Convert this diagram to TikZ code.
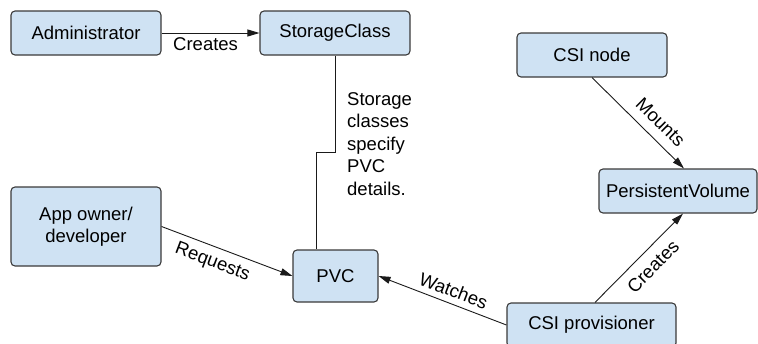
\documentclass[tikz,border=0pt]{standalone}
\usepackage{fontspec}
\setmainfont{Liberation Sans}
\usetikzlibrary{arrows.meta,calc}
\definecolor{boxfill}{HTML}{CFE2F3}
\definecolor{boxline}{HTML}{3A3A3A}
\definecolor{lineclr}{HTML}{1A1A1A}
\begin{document}
\begin{tikzpicture}[x=1pt,y=-1pt,
  box/.style={draw=boxline,fill=boxfill,line width=1.1pt,rounded corners=4pt,
    minimum width=150pt,minimum height=44pt,inner sep=0pt,align=center,
    font=\fontsize{18.5}{22}\selectfont},
  conn/.style={draw=lineclr,line width=0.9pt},
  arr/.style={conn,-{Triangle[length=12pt,width=7pt]}},
  lbl/.style={font=\fontsize{18.5}{22}\selectfont,inner sep=4pt},
  slbl/.style={lbl,sloped,inner sep=7pt}]
\useasboundingbox (0,0) rectangle (758,343);
\node[box] (admin) at (86,33) {Administrator};
\node[box] (sc) at (335,33) {StorageClass};
\node[box] (csinode) at (592,55) {CSI node};
\node[box,minimum width=158pt] (pv) at (678,191) {PersistentVolume};
\node[box,minimum height=79pt] (app) at (86,226.5) {App owner/\\developer};
\node[box,minimum width=85pt,minimum height=52pt] (pvc) at (335.5,276) {PVC};
\node[box,minimum width=169pt] (prov) at (591.5,325) {CSI provisioner};

\draw[arr] (admin.east) -- node[lbl,below,pos=0.45] {Creates} (sc.west);
\draw[conn] (sc.south) -- ++(0,97) coordinate (bend) -| ([xshift=-19.5pt]pvc.north);
\node[lbl,anchor=west,align=left,inner sep=0pt,font=\fontsize{18.5}{22.5}\selectfont] (note) at (347,144)
  {Storage\\classes\\specify\\PVC\\details.};
\draw[arr] (app.east) -- node[slbl,below,pos=0.43] {Requests} (pvc.west);
\draw[arr] (prov.west) -- node[slbl,above,pos=0.45,inner sep=6pt] {Watches} (pvc.east);
\draw[arr] (csinode.south) -- node[slbl,above,pos=0.62,inner sep=9.5pt] {Mounts} ([xshift=6pt]pv.north);
\draw[arr] ([xshift=3.5pt]prov.north) -- node[slbl,below,pos=0.53,inner sep=9pt] {Creates} ([xshift=5pt]pv.south);
\end{tikzpicture}
\end{document}
